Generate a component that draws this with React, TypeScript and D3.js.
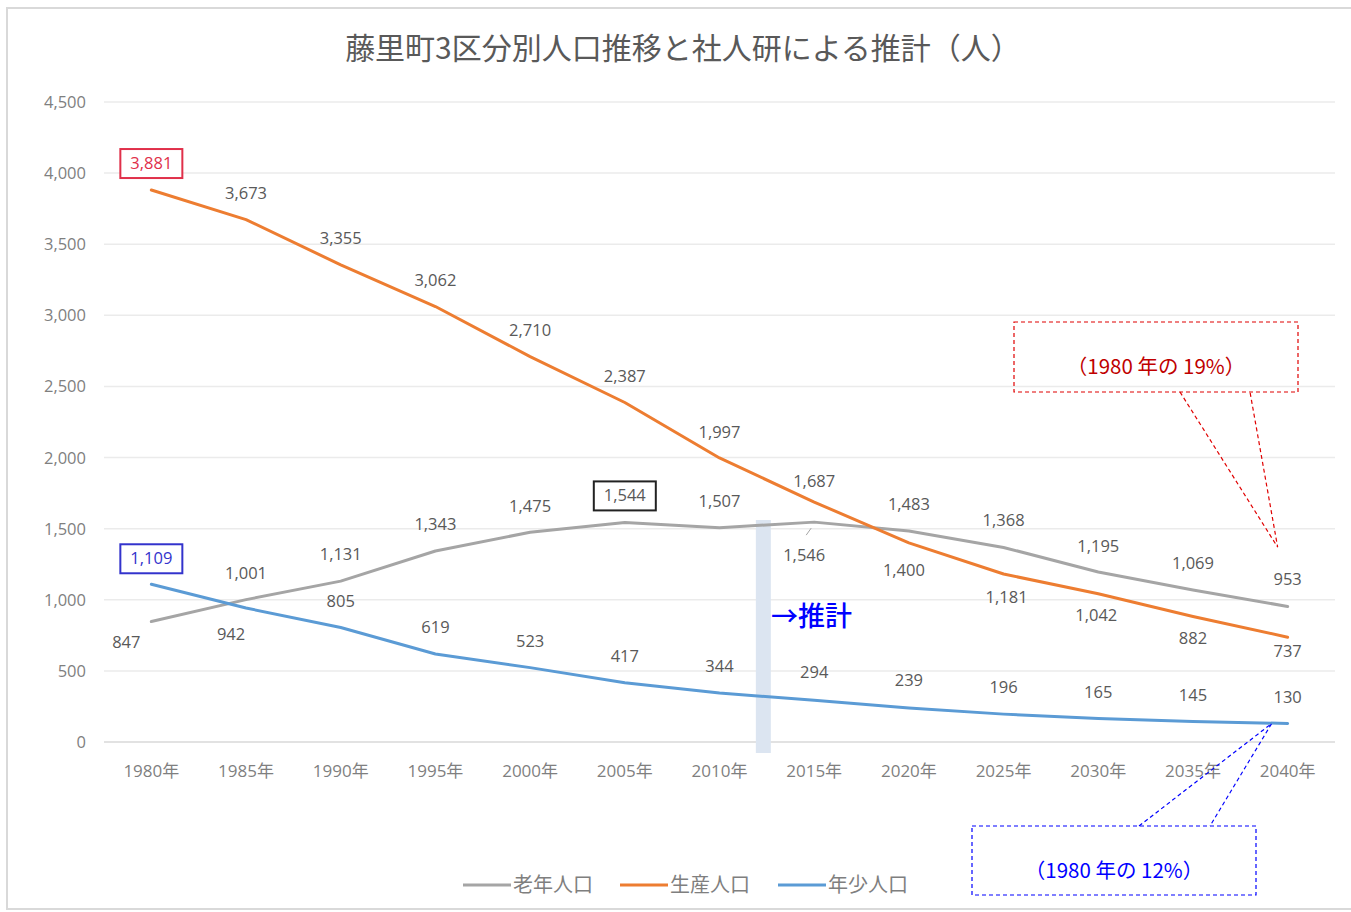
import React from "react";
import * as d3 from "d3";

const years = ["1980年","1985年","1990年","1995年","2000年","2005年","2010年","2015年","2020年","2025年","2030年","2035年","2040年"];
const elderly = [847,1001,1131,1343,1475,1544,1507,1546,1483,1368,1195,1069,953];
const working = [3881,3673,3355,3062,2710,2387,1997,1687,1400,1181,1042,882,737];
const young = [1109,942,805,619,523,417,344,294,239,196,165,145,130];
const yTicks = [0,500,1000,1500,2000,2500,3000,3500,4000,4500];
// label placement: dy offset in px relative to point (negative = above), dx
const elderlyLabelDy = [20,-27,-27,-27,-26,-27,-27,33,-27,-27,-26,-27,-27];
const elderlyLabelDx = [-25,0,0,0,0,0,0,-10,0,0,0,0,0];
const workingLabelDy = [-27,-27,-27,-27,-27,-27,-26,-21,27,23,21,21,14];
const workingLabelDx = [0,0,0,0,0,0,0,0,-5,3,-2,0,0];
const youngLabelDy = [-26,26,-27,-27,-27,-27,-27,-28,-28,-27,-27,-26,-27];
const youngLabelDx = [0,-15,0,0,0,0,0,0,0,0,0,0,0];

const W = 1351, H = 912;
const M = { left: 104, right: 1335, top: 102, bottom: 742 };

const FONT = "'Noto Sans CJK JP', 'Noto Sans', sans-serif";
const NUMFONT = "'Open Sans', 'Noto Sans CJK JP', sans-serif";

export default function App() {
  const x = d3.scaleBand<string>().domain(years).range([M.left, M.right]);
  const xc = (i: number) => (x(years[i]) as number) + x.bandwidth() / 2;
  const y = d3.scaleLinear().domain([0, 4500]).range([M.bottom, M.top]);
  const line = d3.line<number>().x((_, i) => xc(i)).y((d) => y(d));
  const fmt = d3.format(",");

  const series = [
    { name: "老年人口", data: elderly, color: "#A5A5A5", dy: elderlyLabelDy, dx: elderlyLabelDx },
    { name: "生産人口", data: working, color: "#ED7D31", dy: workingLabelDy, dx: workingLabelDx },
    { name: "年少人口", data: young, color: "#5B9BD5", dy: youngLabelDy, dx: youngLabelDx },
  ];

  const boxes: Record<string, { idx: number; stroke: string; text: string }> = {
    "老年人口": { idx: 5, stroke: "#222", text: "#595959" },
    "生産人口": { idx: 0, stroke: "#E0304A", text: "#E0304A" },
    "年少人口": { idx: 0, stroke: "#3333CC", text: "#3333CC" },
  };

  const divX = (xc(6) + xc(7)) / 2 - 3;

  const last = years.length - 1;
  const redTip = { x: xc(last) - 10, y: y(working[last]) - 90 };
  const blueTip = { x: xc(last) - 16, y: y(young[last]) };

  return (
    <svg width={W} height={H} style={{ position: "absolute", left: 0, top: 0, background: "#fff" }} fontFamily={FONT}>
      <rect x={7} y={8} width={W} height={901} fill="#fff" stroke="#D9D9D9" strokeWidth={2} />
      <text x={683} y={59} textAnchor="middle" fontSize={30} fill="#595959">藤里町3区分別人口推移と社人研による推計（人）</text>

      {yTicks.map((t) => (
        <g key={t}>
          <line x1={M.left} x2={M.right} y1={y(t)} y2={y(t)} stroke={t === 0 ? "#D9D9D9" : "#EBEBEB"} strokeWidth={1.5} />
          <text x={86} y={y(t) + 6} textAnchor="end" fontSize={16.5} fill="#7F7F7F" fontFamily={NUMFONT}>{fmt(t)}</text>
        </g>
      ))}
      {years.map((yr, i) => (
        <text key={yr} x={xc(i)} y={777} textAnchor="middle" fontSize={17} fill="#7F7F7F" fontFamily={NUMFONT}>{yr}</text>
      ))}

      <rect x={divX - 8} y={520} width={15} height={233} fill="#DCE5F1" />
      <text x={771} y={626} fontSize={27} fill="#0000FF" fontWeight={500}>→推計</text>

      {series.map((s) => (
        <path key={s.name} d={line(s.data) || ""} fill="none" stroke={s.color} strokeWidth={3} strokeLinejoin="round" strokeLinecap="round" />
      ))}

      <line x1={xc(7) - 8} y1={y(elderly[7]) + 13} x2={xc(7) - 3} y2={y(elderly[7]) + 6} stroke="#A5A5A5" strokeWidth={1} />

      {series.map((s) =>
        s.data.map((v, i) => {
          const b = boxes[s.name];
          const isBox = b.idx === i;
          const lx = xc(i) + s.dx[i];
          const ly = y(v) + s.dy[i];
          return (
            <g key={s.name + i}>
              {isBox && <rect x={lx - 31} y={ly - 14} width={62} height={29} fill="#fff" stroke={b.stroke} strokeWidth={2} />}
              <text x={lx} y={ly + 6} textAnchor="middle" fontSize={16.5} fill={isBox ? b.text : "#595959"} fontFamily={NUMFONT}>{fmt(v)}</text>
            </g>
          );
        })
      )}

      <g>
        <rect x={1014} y={322} width={284} height={70} fill="none" stroke="#E00000" strokeWidth={1.2} strokeDasharray="4,3" />
        <path d={`M1180,392 L${redTip.x},${redTip.y} L1250,392`} fill="none" stroke="#E00000" strokeWidth={1.2} strokeDasharray="4,3" />
        <text x={1156} y={374} textAnchor="middle" fontSize={20.5} fill="#C00000">（1980 年の 19%）</text>
      </g>
      <g>
        <rect x={972} y={826} width={284} height={69} fill="none" stroke="#0000FF" strokeWidth={1.2} strokeDasharray="4,3" />
        <path d={`M1139,826 L${blueTip.x},${blueTip.y} L1210,826`} fill="none" stroke="#0000FF" strokeWidth={1.2} strokeDasharray="4,3" />
        <text x={1114} y={878} textAnchor="middle" fontSize={20.5} fill="#0000FF">（1980 年の 12%）</text>
      </g>

      {series.map((s, i) => {
        const lx = [463, 620, 778][i];
        return (
          <g key={s.name}>
            <line x1={lx} x2={lx + 48} y1={885} y2={885} stroke={s.color} strokeWidth={3} />
            <text x={lx + 50} y={892} fontSize={20} fill="#7F7F7F">{s.name}</text>
          </g>
        );
      })}
    </svg>
  );
}
